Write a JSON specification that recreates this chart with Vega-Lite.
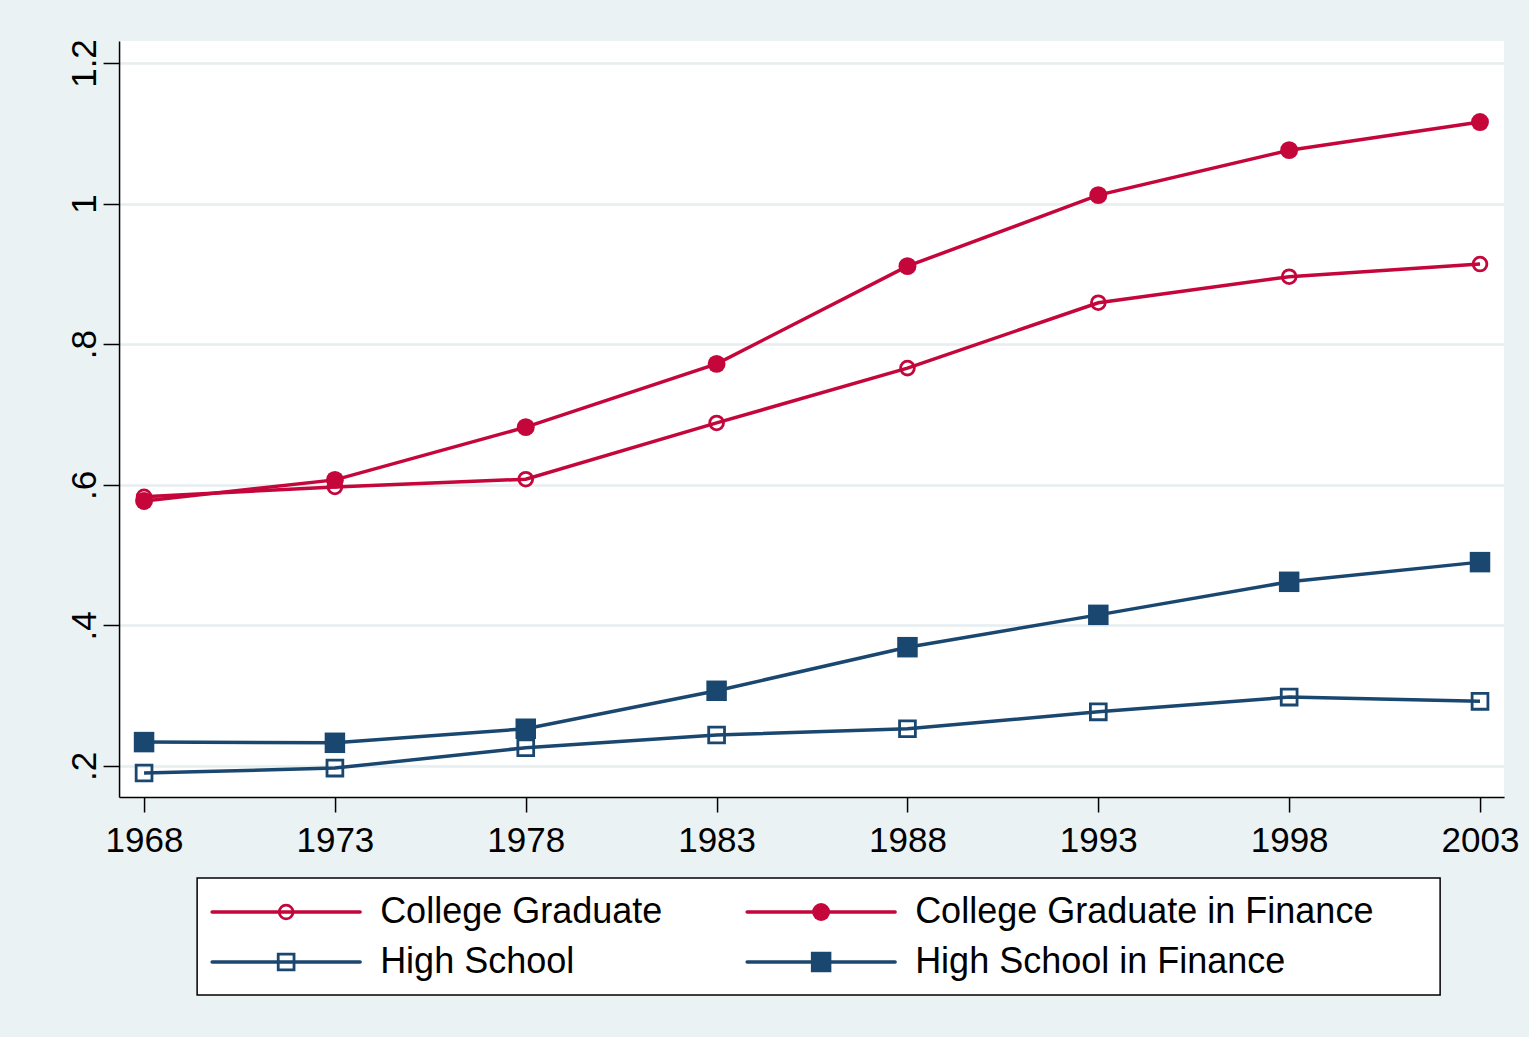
{
  "$schema": "https://vega.github.io/schema/vega-lite/v6.json",
  "background": "#EAF2F3",
  "padding": {"left": 67, "top": 38, "right": 10, "bottom": 44},
  "config": {
    "font": "Liberation Sans",
    "axis": {"labelFont": "Liberation Sans", "labelColor": "black", "domainColor": "black", "tickColor": "black"}
  },
  "datasets": {
    "series": [
      {"year": 1968, "series": "College Graduate", "value": 0.583},
      {"year": 1973, "series": "College Graduate", "value": 0.597},
      {"year": 1978, "series": "College Graduate", "value": 0.608},
      {"year": 1983, "series": "College Graduate", "value": 0.688},
      {"year": 1988, "series": "College Graduate", "value": 0.766},
      {"year": 1993, "series": "College Graduate", "value": 0.859},
      {"year": 1998, "series": "College Graduate", "value": 0.896},
      {"year": 2003, "series": "College Graduate", "value": 0.914},
      {"year": 1968, "series": "College Graduate in Finance", "value": 0.577},
      {"year": 1973, "series": "College Graduate in Finance", "value": 0.607},
      {"year": 1978, "series": "College Graduate in Finance", "value": 0.682},
      {"year": 1983, "series": "College Graduate in Finance", "value": 0.772},
      {"year": 1988, "series": "College Graduate in Finance", "value": 0.911},
      {"year": 1993, "series": "College Graduate in Finance", "value": 1.012},
      {"year": 1998, "series": "College Graduate in Finance", "value": 1.076},
      {"year": 2003, "series": "College Graduate in Finance", "value": 1.116},
      {"year": 1968, "series": "High School", "value": 0.190},
      {"year": 1973, "series": "High School", "value": 0.197},
      {"year": 1978, "series": "High School", "value": 0.226},
      {"year": 1983, "series": "High School", "value": 0.244},
      {"year": 1988, "series": "High School", "value": 0.253},
      {"year": 1993, "series": "High School", "value": 0.277},
      {"year": 1998, "series": "High School", "value": 0.298},
      {"year": 2003, "series": "High School", "value": 0.292},
      {"year": 1968, "series": "High School in Finance", "value": 0.234},
      {"year": 1973, "series": "High School in Finance", "value": 0.233},
      {"year": 1978, "series": "High School in Finance", "value": 0.253},
      {"year": 1983, "series": "High School in Finance", "value": 0.307},
      {"year": 1988, "series": "High School in Finance", "value": 0.369},
      {"year": 1993, "series": "High School in Finance", "value": 0.415},
      {"year": 1998, "series": "High School in Finance", "value": 0.462},
      {"year": 2003, "series": "High School in Finance", "value": 0.490}
    ],
    "legend": [
      {"series": "College Graduate", "col": 0, "row": 0},
      {"series": "College Graduate in Finance", "col": 1, "row": 0},
      {"series": "High School", "col": 0, "row": 1},
      {"series": "High School in Finance", "col": 1, "row": 1}
    ]
  },
  "vconcat": [
    {
      "width": 1385,
      "height": 756,
      "view": {"fill": "white", "stroke": null},
      "data": {"name": "series"},
      "encoding": {
        "x": {
          "field": "year", "type": "quantitative",
          "scale": {"domain": [1967.345, 2003.63], "nice": false, "zero": false},
          "axis": {
            "title": null, "values": [1968, 1973, 1978, 1983, 1988, 1993, 1998, 2003],
            "format": "d", "grid": false, "labelFontSize": 35, "tickSize": 15, "tickWidth": 1.5,
            "domainWidth": 1.5, "labelPadding": 11, "labelFlush": false
          }
        },
        "y": {
          "field": "value", "type": "quantitative",
          "scale": {"domain": [0.1559, 1.2313], "nice": false, "zero": false},
          "axis": {
            "title": null, "values": [0.2, 0.4, 0.6, 0.8, 1, 1.2], "format": "~g",
            "labelExpr": "datum.value < 1 ? substring(datum.label, 1) : datum.label",
            "labelAngle": 270, "labelAlign": "center", "labelBaseline": "bottom",
            "labelFontSize": 35, "tickSize": 16, "tickWidth": 1.5, "domainWidth": 1.5,
            "labelPadding": 1, "grid": true, "gridColor": "#E6EEF0", "gridWidth": 2.5
          }
        },
        "color": {
          "field": "series", "type": "nominal",
          "scale": {
            "domain": ["College Graduate", "College Graduate in Finance", "High School", "High School in Finance"],
            "range": ["#C4063B", "#C4063B", "#1A476F", "#1A476F"]
          },
          "legend": null
        }
      },
      "layer": [
        {"mark": {"type": "line", "strokeWidth": 3.5}},
        {
          "transform": [{"filter": "datum.series == 'College Graduate' || datum.series == 'High School'"}],
          "mark": {"type": "point", "filled": false, "strokeWidth": 2.8, "opacity": 1},
          "encoding": {
            "shape": {"field": "series", "type": "nominal", "legend": null,
              "scale": {"domain": ["College Graduate", "College Graduate in Finance", "High School", "High School in Finance"], "range": ["circle", "circle", "square", "square"]}},
            "size": {"condition": {"test": "datum.series == 'High School'", "value": 250}, "value": 190}
          }
        },
        {
          "transform": [{"filter": "datum.series == 'College Graduate in Finance' || datum.series == 'High School in Finance'"}],
          "mark": {"type": "point", "filled": true, "opacity": 1},
          "encoding": {
            "shape": {"field": "series", "type": "nominal", "legend": null,
              "scale": {"domain": ["College Graduate", "College Graduate in Finance", "High School", "High School in Finance"], "range": ["circle", "circle", "square", "square"]}},
            "size": {"condition": {"test": "datum.series == 'High School in Finance'", "value": 420}, "value": 320}
          }
        }
      ]
    },
    {
      "width": 1243,
      "height": 117,
      "view": {"fill": "white", "stroke": "black", "strokeWidth": 1.5},
      "data": {"name": "legend"},
      "encoding": {
        "x": {"field": "col", "type": "ordinal", "scale": {"type": "point", "range": [15, 550], "padding": 0}, "axis": null},
        "y": {"field": "row", "type": "ordinal", "scale": {"type": "point", "range": [34, 84], "padding": 0}, "axis": null},
        "color": {
          "field": "series", "type": "nominal",
          "scale": {
            "domain": ["College Graduate", "College Graduate in Finance", "High School", "High School in Finance"],
            "range": ["#C4063B", "#C4063B", "#1A476F", "#1A476F"]
          },
          "legend": null
        }
      },
      "layer": [
        {
          "mark": {"type": "rule", "strokeWidth": 3.5, "strokeCap": "round", "x2Offset": 148},
          "encoding": {"x2": {"field": "col"}}
        },
        {
          "transform": [{"filter": "datum.series == 'College Graduate' || datum.series == 'High School'"}],
          "mark": {"type": "point", "filled": false, "strokeWidth": 2.8, "opacity": 1, "xOffset": 74},
          "encoding": {
            "shape": {"field": "series", "type": "nominal", "legend": null,
              "scale": {"domain": ["College Graduate", "College Graduate in Finance", "High School", "High School in Finance"], "range": ["circle", "circle", "square", "square"]}},
            "size": {"condition": {"test": "datum.series == 'High School'", "value": 250}, "value": 190}
          }
        },
        {
          "transform": [{"filter": "datum.series == 'College Graduate in Finance' || datum.series == 'High School in Finance'"}],
          "mark": {"type": "point", "filled": true, "opacity": 1, "xOffset": 74},
          "encoding": {
            "shape": {"field": "series", "type": "nominal", "legend": null,
              "scale": {"domain": ["College Graduate", "College Graduate in Finance", "High School", "High School in Finance"], "range": ["circle", "circle", "square", "square"]}},
            "size": {"condition": {"test": "datum.series == 'High School in Finance'", "value": 420}, "value": 320}
          }
        },
        {
          "mark": {"type": "text", "align": "left", "baseline": "middle", "fontSize": 36, "xOffset": 168},
          "encoding": {"text": {"field": "series"}, "color": {"value": "black"}}
        }
      ]
    }
  ],
  "center": true,
  "spacing": 19
}
